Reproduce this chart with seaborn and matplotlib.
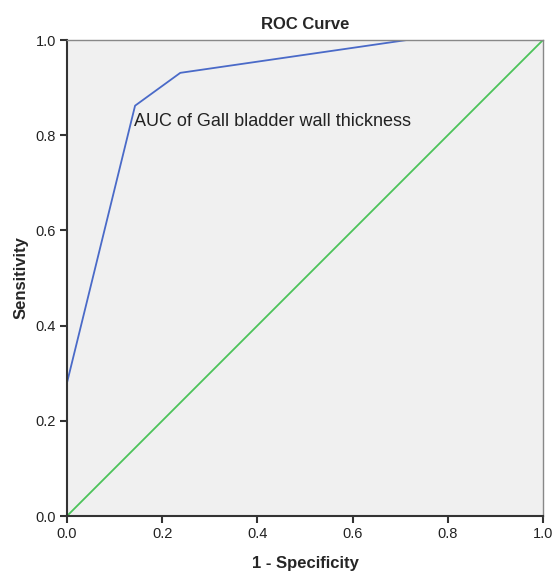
import matplotlib
matplotlib.use("Agg")
import matplotlib.pyplot as plt
import seaborn as sns
import pandas as pd

fpr = [0.0, 0.0, 0.143, 0.238, 0.714, 1.0]
tpr = [0.0, 0.28, 0.862, 0.931, 1.0, 1.0]
ref_x = [0.0, 1.0]
ref_y = [0.0, 1.0]
ticks = [0.0, 0.2, 0.4, 0.6, 0.8, 1.0]
tick_labels = ["0.0", "0.2", "0.4", "0.6", "0.8", "1.0"]

sns.set_style("white")
plt.rcParams['font.family'] = ['Liberation Sans', 'DejaVu Sans']

fig = plt.figure(figsize=(5.53, 5.74), dpi=100)
ax = fig.add_axes([67/553, 1-516/574, 476/553, 476/574])
ax.set_facecolor("#F0F0F0")

roc = pd.DataFrame({"x": fpr, "y": tpr})
ref = pd.DataFrame({"x": ref_x, "y": ref_y})
sns.lineplot(data=ref, x="x", y="y", ax=ax, color="#4CC35A", linewidth=1.3,
             sort=False, estimator=None)
sns.lineplot(data=roc, x="x", y="y", ax=ax, color="#4A6AC8", linewidth=1.3,
             sort=False, estimator=None)

ax.set_xlim(0, 1)
ax.set_ylim(0, 1)
ax.set_xticks(ticks)
ax.set_xticklabels(tick_labels)
ax.set_yticks(ticks)
ax.set_yticklabels(tick_labels)
ax.tick_params(axis="both", length=5, width=1.5, color="#333333", labelsize=10.5,
               labelcolor="#222222", direction="out", pad=3)
ax.tick_params(bottom=True, left=True)

for s in ["left", "bottom"]:
    ax.spines[s].set_color("#333333")
    ax.spines[s].set_linewidth(1.5)
for s in ["top", "right"]:
    ax.spines[s].set_color("#888888")
    ax.spines[s].set_linewidth(1.0)

ax.set_xlabel("1 - Specificity", fontsize=12, fontweight="bold", labelpad=11)
ax.set_ylabel("Sensitivity", fontsize=12, fontweight="bold", labelpad=5)
ax.set_title("ROC Curve", fontsize=12, fontweight="bold", pad=8)

ax.text(0.141, 0.828, "AUC of Gall bladder wall thickness", fontsize=13,
        ha="left", va="center", color="#222222")

fig.savefig("out.png", dpi=100)
